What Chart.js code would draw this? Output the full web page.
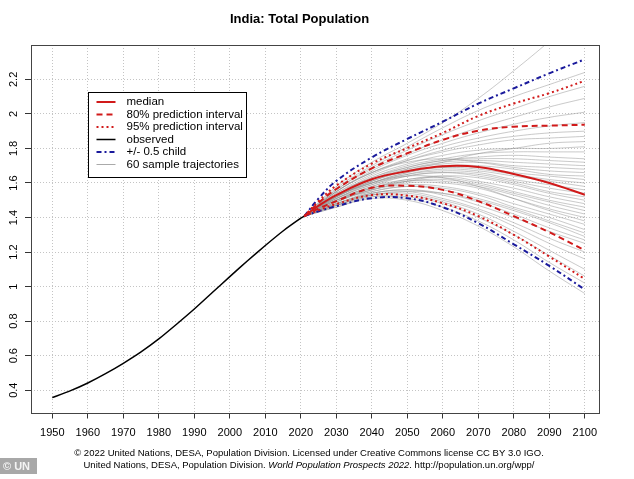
<!DOCTYPE html>
<html>
<head>
<meta charset="utf-8">
<script src="https://cdn.jsdelivr.net/npm/chart.js@4.4.0/dist/chart.umd.min.js"></script>
<style>
  html, body { margin: 0; padding: 0; background: #fff; }
</style>
</head>
<body>
<canvas id="myChart" width="634" height="479"></canvas>
<script>
// observed population, billions
var obsYears = [1950, 1955, 1960, 1965, 1970, 1975, 1980, 1985, 1990, 1995, 2000, 2005, 2010, 2015, 2020, 2021];
var obsPop = [0.357, 0.396, 0.442, 0.496, 0.556, 0.622, 0.697, 0.782, 0.870, 0.964, 1.058, 1.150, 1.238, 1.322, 1.396, 1.408];

// projections
var projYears = [2021, 2025, 2030, 2040, 2050, 2060, 2070, 2080, 2090, 2100];
var median  = [1.408, 1.468, 1.530, 1.622, 1.668, 1.697, 1.693, 1.652, 1.600, 1.532];
var pi80up  = [1.408, 1.485, 1.565, 1.685, 1.772, 1.850, 1.903, 1.926, 1.932, 1.937];
var pi80lo  = [1.408, 1.452, 1.495, 1.572, 1.584, 1.560, 1.495, 1.408, 1.315, 1.210];
var pi95up  = [1.408, 1.495, 1.585, 1.712, 1.802, 1.890, 1.988, 2.060, 2.120, 2.192];
var pi95lo  = [1.408, 1.442, 1.478, 1.530, 1.527, 1.483, 1.408, 1.300, 1.174, 1.044];
var childUp = [1.408, 1.510, 1.612, 1.748, 1.855, 1.955, 2.060, 2.148, 2.235, 2.316];
var childLo = [1.408, 1.436, 1.466, 1.512, 1.512, 1.460, 1.367, 1.245, 1.120, 0.983];

// sample trajectories
var trajYears = [2021, 2030, 2040, 2050, 2060, 2070, 2080, 2090, 2100];
var trajectories = [
  [1.408, 1.58, 1.72, 1.83, 1.95, 2.09, 2.25, 2.42, 2.60],
  [1.408, 1.57, 1.70, 1.81, 1.92, 2.02, 2.10, 2.17, 2.24],
  [1.408, 1.56, 1.69, 1.79, 1.88, 1.96, 2.03, 2.10, 2.16],
  [1.408, 1.56, 1.68, 1.77, 1.85, 1.92, 1.98, 2.04, 2.09],
  [1.408, 1.55, 1.67, 1.76, 1.83, 1.89, 1.94, 1.98, 2.01],
  [1.408, 1.55, 1.66, 1.74, 1.81, 1.86, 1.90, 1.93, 1.95],
  [1.408, 1.54, 1.65, 1.73, 1.79, 1.84, 1.87, 1.89, 1.90],
  [1.408, 1.55, 1.66, 1.73, 1.78, 1.82, 1.85, 1.86, 1.87],
  [1.408, 1.52, 1.61, 1.67, 1.72, 1.77, 1.80, 1.83, 1.84],
  [1.408, 1.53, 1.64, 1.71, 1.76, 1.79, 1.80, 1.80, 1.81],
  [1.408, 1.54, 1.63, 1.70, 1.74, 1.77, 1.78, 1.78, 1.78],
  [1.408, 1.53, 1.63, 1.69, 1.73, 1.75, 1.76, 1.75, 1.74],
  [1.408, 1.52, 1.62, 1.69, 1.73, 1.74, 1.74, 1.73, 1.72],
  [1.408, 1.53, 1.62, 1.68, 1.72, 1.73, 1.72, 1.71, 1.70],
  [1.408, 1.52, 1.61, 1.68, 1.71, 1.72, 1.70, 1.69, 1.68],
  [1.408, 1.55, 1.66, 1.72, 1.74, 1.72, 1.69, 1.67, 1.66],
  [1.408, 1.52, 1.60, 1.66, 1.70, 1.70, 1.68, 1.65, 1.64],
  [1.408, 1.51, 1.60, 1.66, 1.69, 1.69, 1.66, 1.64, 1.62],
  [1.408, 1.52, 1.61, 1.67, 1.69, 1.68, 1.65, 1.62, 1.60],
  [1.408, 1.51, 1.59, 1.65, 1.68, 1.67, 1.64, 1.61, 1.58],
  [1.408, 1.52, 1.60, 1.65, 1.67, 1.66, 1.62, 1.59, 1.56],
  [1.408, 1.51, 1.59, 1.64, 1.66, 1.65, 1.61, 1.57, 1.54],
  [1.408, 1.50, 1.58, 1.64, 1.66, 1.64, 1.60, 1.55, 1.52],
  [1.408, 1.49, 1.56, 1.61, 1.64, 1.63, 1.59, 1.54, 1.50],
  [1.408, 1.50, 1.58, 1.62, 1.64, 1.61, 1.57, 1.52, 1.48],
  [1.408, 1.50, 1.57, 1.62, 1.63, 1.60, 1.55, 1.50, 1.46],
  [1.408, 1.51, 1.57, 1.61, 1.62, 1.59, 1.54, 1.49, 1.44],
  [1.408, 1.49, 1.57, 1.61, 1.61, 1.58, 1.53, 1.47, 1.42],
  [1.408, 1.50, 1.56, 1.60, 1.60, 1.57, 1.51, 1.45, 1.40],
  [1.408, 1.52, 1.60, 1.64, 1.63, 1.58, 1.51, 1.44, 1.38],
  [1.408, 1.49, 1.56, 1.59, 1.58, 1.54, 1.48, 1.42, 1.36],
  [1.408, 1.50, 1.55, 1.58, 1.57, 1.53, 1.46, 1.40, 1.33],
  [1.408, 1.48, 1.55, 1.58, 1.56, 1.51, 1.45, 1.38, 1.31],
  [1.408, 1.47, 1.53, 1.55, 1.54, 1.50, 1.44, 1.37, 1.29],
  [1.408, 1.48, 1.54, 1.56, 1.54, 1.49, 1.42, 1.34, 1.27],
  [1.408, 1.48, 1.54, 1.56, 1.53, 1.47, 1.40, 1.32, 1.25],
  [1.408, 1.47, 1.54, 1.55, 1.51, 1.45, 1.37, 1.28, 1.20],
  [1.408, 1.48, 1.53, 1.54, 1.50, 1.44, 1.35, 1.25, 1.16],
  [1.408, 1.47, 1.53, 1.53, 1.49, 1.42, 1.32, 1.21, 1.10],
  [1.408, 1.47, 1.52, 1.52, 1.48, 1.40, 1.30, 1.18, 1.06],
  [1.408, 1.46, 1.52, 1.51, 1.46, 1.38, 1.27, 1.14, 1.02],
  [1.408, 1.46, 1.51, 1.50, 1.44, 1.35, 1.23, 1.09, 0.96]
];

var xTicks = [1950, 1960, 1970, 1980, 1990, 2000, 2010, 2020, 2030, 2040, 2050, 2060, 2070, 2080, 2090, 2100];
var yTicks = [0.4, 0.6, 0.8, 1.0, 1.2, 1.4, 1.6, 1.8, 2.0, 2.2];
var yTickLabels = ['0.4', '0.6', '0.8', '1', '1.2', '1.4', '1.6', '1.8', '2', '2.2'];
var legendLabels = ['median', '80% prediction interval', '95% prediction interval', 'observed', '+/- 0.5 child', '60 sample trajectories'];

var FONT = '"Liberation Sans", Arial, Helvetica, sans-serif';
var red = '#d11a1a', blue = '#1a1a9c';

function pts(xs, ys) {
  return xs.map(function (x, i) { return { x: x, y: ys[i] }; });
}

var datasets = [
  { label: 'median', data: pts(projYears, median), borderColor: red, borderWidth: 2 },
  { label: '80% prediction interval', data: pts(projYears, pi80up), borderColor: red, borderWidth: 2, borderDash: [6, 4] },
  { label: '80% prediction interval', data: pts(projYears, pi80lo), borderColor: red, borderWidth: 2, borderDash: [6, 4] },
  { label: '95% prediction interval', data: pts(projYears, pi95up), borderColor: red, borderWidth: 2, borderDash: [2, 3] },
  { label: '95% prediction interval', data: pts(projYears, pi95lo), borderColor: red, borderWidth: 2, borderDash: [2, 3] },
  { label: 'observed', data: pts(obsYears, obsPop), borderColor: '#000', borderWidth: 1.5, tension: 0.2 },
  { label: '+/- 0.5 child', data: pts(projYears, childUp), borderColor: blue, borderWidth: 2, borderDash: [5, 3, 2, 3] },
  { label: '+/- 0.5 child', data: pts(projYears, childLo), borderColor: blue, borderWidth: 2, borderDash: [5, 3, 2, 3] }
];
trajectories.forEach(function (t) {
  datasets.push({ label: '60 sample trajectories', data: pts(trajYears, t), borderColor: 'rgba(150,150,150,0.5)', borderWidth: 1 });
});

// plot frame, legend, credits
var extras = {
  id: 'extras',
  afterDraw: function (chart) {
    var ctx = chart.ctx, a = chart.chartArea;
    ctx.save();
    ctx.strokeStyle = '#444';
    ctx.lineWidth = 1;
    ctx.strokeRect(Math.round(a.left) + 0.5, Math.round(a.top) + 0.5, Math.round(a.right - a.left), Math.round(a.bottom - a.top));

    // legend
    var lx = 88.5, ly = 92.5, lw = 158, lh = 85;
    ctx.fillStyle = '#fff';
    ctx.fillRect(lx, ly, lw, lh);
    ctx.save();
    ctx.beginPath();
    ctx.rect(lx, ly, lw, lh);
    ctx.clip();
    ctx.font = '11.5px ' + FONT;
    ctx.textBaseline = 'middle';
    legendLabels.forEach(function (lab, i) {
      var ds = chart.data.datasets.find(function (d) { return d.label === lab; });
      var yy = ly + 9.5 + i * 12.5;
      ctx.strokeStyle = i === 5 ? '#aaa' : ds.borderColor;
      ctx.lineWidth = ds.borderWidth;
      ctx.setLineDash(ds.borderDash || []);
      ctx.beginPath();
      ctx.moveTo(lx + 8, yy);
      ctx.lineTo(lx + 27, yy);
      ctx.stroke();
      ctx.setLineDash([]);
      ctx.fillStyle = '#000';
      ctx.fillText(lab, lx + 38, yy);
    });
    ctx.restore();
    ctx.strokeStyle = '#000';
    ctx.lineWidth = 1;
    ctx.strokeRect(lx, ly, lw, lh);

    // credits
    ctx.fillStyle = '#000';
    ctx.textBaseline = 'middle';
    ctx.font = '9.5px ' + FONT;
    ctx.textAlign = 'center';
    ctx.fillText('\u00A9 2022 United Nations, DESA, Population Division. Licensed under Creative Commons license CC BY 3.0 IGO.', 309, 453);
    var p1 = 'United Nations, DESA, Population Division. ';
    var p2 = 'World Population Prospects 2022';
    var p3 = '. http://population.un.org/wpp/';
    ctx.textAlign = 'left';
    var w1 = ctx.measureText(p1).width, w3 = ctx.measureText(p3).width;
    ctx.font = 'italic 9.5px ' + FONT;
    var w2 = ctx.measureText(p2).width;
    var sx = 309 - (w1 + w2 + w3) / 2;
    ctx.font = '9.5px ' + FONT;
    ctx.fillText(p1, sx, 465);
    ctx.font = 'italic 9.5px ' + FONT;
    ctx.fillText(p2, sx + w1, 465);
    ctx.font = '9.5px ' + FONT;
    ctx.fillText(p3, sx + w1 + w2, 465);

    // UN badge
    ctx.fillStyle = '#a8a8a8';
    ctx.fillRect(0, 458, 37, 16);
    ctx.fillStyle = '#f4f4f4';
    ctx.font = 'bold 11px ' + FONT;
    ctx.fillText('\u00A9 UN', 3, 466.5);
    ctx.restore();
  }
};

new Chart(document.getElementById('myChart'), {
  type: 'line',
  data: { datasets: datasets },
  options: {
    responsive: false,
    animation: false,
    events: [],
    elements: {
      point: { radius: 0 },
      line: { fill: false, tension: 0.4 }
    },
    layout: { padding: { left: 0, right: 35, top: 0, bottom: 36 } },
    plugins: {
      legend: { display: false },
      tooltip: { enabled: false },
      title: {
        display: true,
        text: 'India: Total Population',
        color: '#000',
        font: { family: FONT, size: 13, weight: 'bold' },
        padding: { top: 12, bottom: 17.4 }
      }
    },
    scales: {
      x: {
        type: 'linear',
        min: 1944,
        max: 2104,
        afterBuildTicks: function (s) { s.ticks = xTicks.map(function (v) { return { value: v }; }); },
        afterFit: function (s) { s.height = 30.5; },
        ticks: {
          autoSkip: false, maxRotation: 0, minRotation: 0, padding: 8, color: '#000',
          font: { family: FONT, size: 11 },
          callback: function (v) { return String(v); }
        },
        grid: { color: '#c4c4c4', lineWidth: 1, tickLength: 6, tickColor: '#333', tickWidth: 1, tickBorderDash: [] },
        border: { display: false, dash: [1, 2] }
      },
      y: {
        type: 'linear',
        min: 0.271,
        max: 2.399,
        afterBuildTicks: function (s) { s.ticks = yTicks.map(function (v) { return { value: v }; }); },
        afterFit: function (s) { s.width = 31; },
        ticks: {
          minRotation: 90, maxRotation: 90, crossAlign: 'center', padding: 3, color: '#000',
          font: { family: FONT, size: 11 },
          callback: function (v, i) { return yTickLabels[i]; }
        },
        grid: { color: '#c4c4c4', lineWidth: 1, tickLength: 6, tickColor: '#333', tickWidth: 1, tickBorderDash: [] },
        border: { display: false, dash: [1, 2] }
      }
    }
  },
  plugins: [extras]
});
</script>
</body>
</html>
